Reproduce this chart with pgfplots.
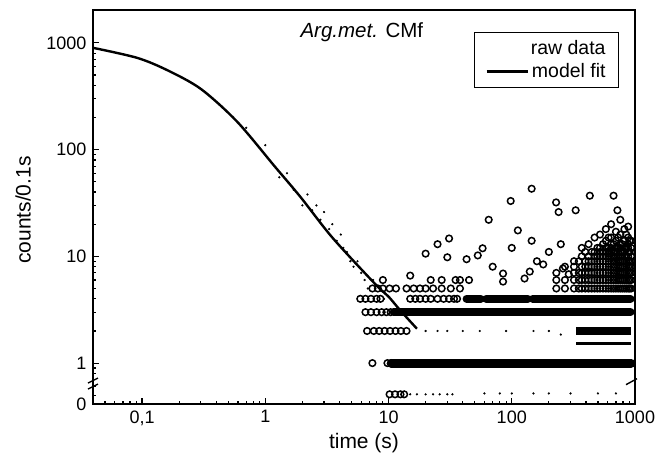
\documentclass[border=0pt]{standalone}
\usepackage{fontspec}
\setmainfont{Liberation Sans}
\usepackage{pgfplots}
\pgfplotsset{compat=1.18}

\begin{document}
\begin{tikzpicture}
\begin{axis}[
  at={(0,0)}, anchor=south west,
  scale only axis, width=542pt, height=394pt,
  xmode=log, ymode=log,
  xmin=0.04, xmax=1000, ymin=0.414, ymax=2030,
  xtick={0.1,1,10,100,1000}, xticklabels={{0,1},1,10,100,1000},
  ytick={0.414,1,10,100,1000}, yticklabels={0,1,10,100,1000},
  minor xtick={0.05,0.06,0.07,0.08,0.09,0.2,0.3,0.4,0.5,0.6,0.7,0.8,0.9,2,3,4,5,6,7,8,9,20,30,40,50,60,70,80,90,200,300,400,500,600,700,800,900},
  minor ytick={0.5,0.6,0.7,0.8,0.9,2,3,4,5,6,7,8,9,20,30,40,50,60,70,80,90,200,300,400,500,600,700,800,900,2000},
  xtick pos=bottom, ytick pos=left,
  tick align=inside,
  major tick length=6pt, minor tick length=3.5pt,
  axis line style={line width=1.5pt},
  every tick/.style={black, line width=1.2pt},
  tick label style={font=\fontsize{18}{20}\selectfont},
  yticklabel style={xshift=-3pt},
  xticklabel style={yshift=-3pt},
  xlabel={time (s)}, ylabel={counts/0.1s},
  xlabel style={font=\fontsize{21}{24}\selectfont, at={(axis description cs:0.5,-0.10)}, anchor=center},
  ylabel style={font=\fontsize{21}{24}\selectfont, at={(axis description cs:-0.129,0.492)}, anchor=center},
  legend cell align=right,
  legend style={at={(rel axis cs:0.9705,0.945)}, anchor=north east,
    draw=black, line width=0.8pt, font=\fontsize{19.5}{23}\selectfont,
    inner xsep=11pt, inner ysep=6pt, row sep=4pt,
    /tikz/every even column/.append style={column sep=3pt}},
  clip mode=individual,
]
% raw data, isolated counts
\addplot[only marks, mark=o, mark size=3.3pt, line width=1.5pt, black,
  legend image code/.code={}] coordinates {
  (7.4,5)(8.2,5)(9.0,5)(10.2,5)(11.5,5)(14,5)(16,5)(18,5)(20,5)(23,5)(27,5)(32,5)(38,5)
  (9,6)(22,6)(27,6)(35,6)(45,6)
  (5.9,4)(6.5,4)(7.2,4)(8.0,4)(8.6,4)(15,4)(16.5,4)(18,4)(20,4)(22,4)(25,4)(28,4)(31,4)(34,4)(36,4)
  (6.5,3)(7.2,3)(8.0,3)(8.8,3)(9.6,3)(10.4,3)
  (6.7,2)(7.6,2)(8.4,2)(9.3,2)(10.3,2)(11.4,2)(12.6,2)(14,2)
  (7.4,1)(9.8,1)(10.5,1)
  (10.2,0.51)(11.3,0.51)(12.5,0.51)(13.4,0.51)
  (20,10.6)(30,9.8)(38,6)(15,6.6)(43,9.4)(58,11.9)(85,5.8)(85,6.9)(127,6.2)(140,7.2)
  (180,8.4)(260,7.7)(290,6.8)(31,14.7)(98,33)(145,43)(112,17.5)(145,14)(53,10.2)
  (430,37)(670,37)(229,32)(240,26)(330,27)(720,27)(70,8)(100,12)(200,11)(250,13)
  (160,9)(65,22)(25,13)
  (230,5)(230,6)(230,7)(270,5)(270,6)(270,8)
  (320,5)(320,6)(320,7)(320,8)(320,9)
  (350,5)(350,6)(350,7)(350,9)
  (370,5)(370,6)(370,7)(370,8)(370,10)(370,12)
  (395,5)(395,6)(395,7)(395,8)(395,9)(395,11)
  (420,5)(420,6)(420,7)(420,8)(420,9)(420,10)(420,13)
  (445,5)(445,6)(445,7)(445,8)(445,9)(445,11)
  (470,5)(470,6)(470,7)(470,8)(470,9)(470,10)(470,11)(470,15)
  (495,5)(495,6)(495,7)(495,8)(495,9)(495,10)(495,12)
  (520,5)(520,6)(520,7)(520,8)(520,9)(520,10)(520,11)(520,12)(520,16)
  (550,5)(550,6)(550,7)(550,8)(550,9)(550,10)(550,11)(550,13)
  (580,5)(580,6)(580,7)(580,8)(580,9)(580,10)(580,11)(580,12)(580,14)(580,18)
  (610,5)(610,6)(610,7)(610,8)(610,9)(610,10)(610,11)(610,12)(610,15)
  (640,5)(640,6)(640,7)(640,8)(640,9)(640,10)(640,11)(640,12)(640,13)(640,15)(640,20)
  (670,5)(670,6)(670,7)(670,8)(670,9)(670,10)(670,11)(670,13)
  (700,5)(700,6)(700,7)(700,8)(700,9)(700,10)(700,11)(700,12)(700,14)(700,17)
  (730,5)(730,6)(730,7)(730,8)(730,9)(730,10)(730,12)(730,15)
  (760,5)(760,6)(760,7)(760,8)(760,9)(760,10)(760,11)(760,12)(760,13)(760,16)(760,22)
  (790,5)(790,6)(790,7)(790,8)(790,9)(790,10)(790,11)(790,13)
  (820,5)(820,6)(820,7)(820,8)(820,9)(820,10)(820,11)(820,12)(820,14)(820,18)
  (850,5)(850,6)(850,7)(850,8)(850,9)(850,10)(850,12)(850,16)
  (880,5)(880,6)(880,7)(880,8)(880,9)(880,10)(880,11)(880,12)(880,13)(880,15)(880,19)
  (905,5)(905,6)(905,7)(905,8)(905,9)(905,11)(905,14)
  (930,5)(930,6)(930,7)(930,8)(930,9)(930,10)(930,12)(930,14)
};
\addlegendentry{raw data}
% raw data near the decay, small specks
\addplot[only marks, mark=*, mark size=0.9pt, black, forget plot] coordinates {
  (0.33,340)(0.7,160)(1.0,110)(1.3,55)(1.5,60)(1.7,42)(2.0,30)(2.2,38)(2.4,27)
  (2.6,30)(2.8,22)(3.0,26)(3.3,18)(3.5,20)(3.8,14)(4.1,16)(4.3,12)(4.6,11)(4.9,9)
  (5.2,8)(5.6,9)(6.0,7)(6.4,6)(6.8,5)(7.5,6)(8.5,5)(9.2,4)
  (15,0.51)(17,0.51)(20,0.51)(23,0.51)(26,0.51)(30,0.51)(33,0.51)
  (60,0.52)(80,0.52)(100,0.52)(150,0.52)(200,0.52)(300,0.52)(500,0.52)(700,0.52)
  (20,2)(25,2)(30,2)(40,2)(55,2)(90,2)(150,2)(200,2)(250,1.85)
};
% raw data, dense rows of counts
\addplot[black, line width=9pt, line cap=round, forget plot] coordinates {(10.5,1)(930,1)};
\addplot[black, line width=8pt, line cap=round, forget plot] coordinates {(11,3)(920,3)};
\addplot[black, line width=8pt, line cap=round, forget plot] coordinates {(43,4)(56,4)};
\addplot[black, line width=8pt, line cap=round, forget plot] coordinates {(62,4)(135,4)};
\addplot[black, line width=8pt, line cap=round, forget plot] coordinates {(148,4)(920,4)};
\addplot[black, line width=8pt, forget plot] coordinates {(335,2)(930,2)};
\addplot[black, line width=3pt, forget plot] coordinates {(335,1.54)(920,1.54)};
% model fit
\addplot[black, line width=2.4pt, smooth,
  legend image code/.code={\draw[black, line width=2.4pt] (0pt,0pt) -- (41pt,0pt);}]
  coordinates {
  (0.04,898)(0.091,724)(0.16,555)(0.30,370)(0.59,183)(1.2,69)(1.93,36)
  (3.5,15)(7.8,5.5)(10,4.2)(12.5,3.1)(17,2.1)
};
\addlegendentry{model fit}
\node[font=\fontsize{20.5}{24}\selectfont] at (rel axis cs:0.496,0.944) {\textit{Arg.met.} CMf};
\coordinate (brL) at (axis cs:0.04,0.65);
\coordinate (brR) at (axis cs:1000,0.67);
\end{axis}
\draw[line width=1.4pt] ([shift={(-5pt,-6pt)}]brL) -- ++(10pt,5pt);
\draw[line width=1.4pt] ([shift={(-5pt,0pt)}]brL) -- ++(10pt,5pt);
\draw[line width=1.4pt] ([shift={(-9pt,-3pt)}]brR) -- ++(11pt,6pt);
\pgfresetboundingbox
\path[use as bounding box] (-93pt,-58pt) rectangle (571pt,404pt);
\end{tikzpicture}
\end{document}
